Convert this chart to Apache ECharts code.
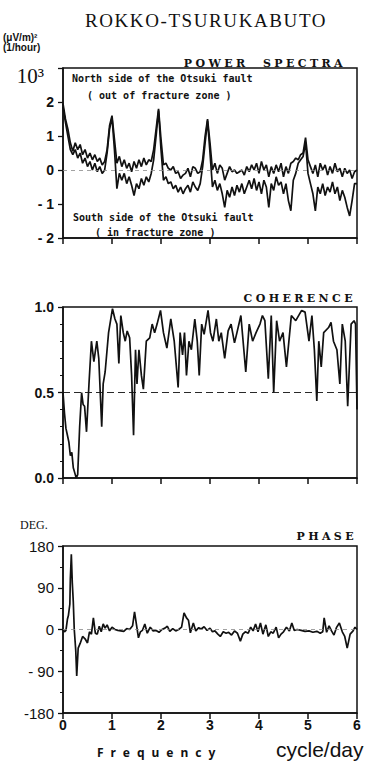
<!DOCTYPE html>
<html><head><meta charset="utf-8">
<style>
html,body{margin:0;padding:0;background:#fff;}
#c{width:367px;height:761px;}
#c text[style*="Liberation Serif"]{letter-spacing:1.6px;}
#c text[style*="DejaVu Serif"]{letter-spacing:3.4px;}
#c text[style*="Noto Sans"]{letter-spacing:7px;}
</style>
<script src="https://cdn.jsdelivr.net/npm/echarts@6/dist/echarts.min.js"></script>
</head><body><div id="c"></div>
<script>
// ---- data ----
const freqStart = 0, freqStep = 0.05; // power spectra sampled every 0.05 cycle/day from 0 to 6
const northSide = [
 1.95,1.5,1.2,0.8,0.55,0.8,0.6,0.75,0.45,0.6,
 0.35,0.5,0.3,0.45,0.25,0.35,0.15,0.25,0.6,1.3,
 1.6,0.9,0.2,0.4,0.1,0.3,0.05,0.2,-0.05,0.25,
 0.05,0.3,0.1,0.35,0.15,0.3,0.25,0.6,1.2,1.8,
 0.9,0.15,0.2,0.05,0.0,0.1,-0.1,-0.05,-0.25,-0.15,
 -0.1,0.05,-0.2,0.1,0.05,-0.1,-0.05,0.3,1.0,1.5,
 0.8,0.0,0.2,-0.1,0.15,0.05,-0.3,-0.1,0.1,-0.05,
 0.0,-0.1,-0.05,0.0,-0.15,0.1,-0.05,0.15,0.0,0.2,
 -0.1,0.25,0.0,0.15,-0.2,0.1,-0.1,0.15,-0.05,0.2,
 -0.2,0.1,-0.1,0.2,0.25,0.35,0.3,0.45,0.5,0.95,
 0.3,0.1,-0.1,0.15,-0.2,0.2,0.0,0.15,-0.15,0.1,
 -0.1,0.2,-0.05,0.05,-0.2,0.05,-0.1,0.0,-0.25,-0.05,
 0.0];
const southSide = [
 1.85,1.4,1.0,0.6,0.45,0.6,0.35,0.5,0.2,0.35,
 0.1,0.25,0.0,0.2,-0.05,0.1,-0.1,0.0,0.5,1.2,
 1.55,0.6,-0.55,-0.1,-0.3,-0.1,-0.4,-0.2,-0.45,-0.75,
 -0.4,-0.55,-0.25,-0.45,-0.2,-0.35,-0.1,0.3,1.0,1.75,
 0.6,-0.3,-0.2,-0.4,-0.35,-0.55,-0.45,-0.65,-0.5,-0.7,
 -0.55,-0.45,-0.65,-0.35,-0.5,-0.6,-0.4,0.1,0.8,1.45,
 0.5,-0.5,-0.3,-0.6,-0.4,-0.7,-1.1,-0.6,-0.8,-0.5,
 -0.75,-0.45,-0.65,-0.4,-0.7,-0.5,-0.3,-0.55,-0.25,-0.6,
 -0.35,-0.7,-0.3,-0.5,-1.1,-0.4,-0.6,-0.2,-0.45,-0.35,
 -0.7,-0.4,-0.9,-1.2,-0.3,-0.1,0.2,0.3,0.4,0.8,
 -0.1,-0.4,-0.7,-1.2,-0.5,-0.7,-0.4,-0.75,-0.5,-0.65,
 -0.35,-0.7,-0.5,-0.9,-0.6,-0.8,-1.1,-1.35,-0.9,-0.4,
 -0.4];
const powerTicks = [-2,-1,0,1,2,3];
const powerTickLabels = ['- 2','- 1','0','1','2','10³'];

const cohFreq = [0.00,0.03,0.06,0.09,0.12,0.15,0.18,0.21,0.24,0.27,0.30,0.34,0.38,0.41,0.44,0.48,0.53,0.58,0.63,0.69,0.73,0.79,0.82,0.86,0.93,1.01,1.06,1.10,1.14,1.18,1.23,1.27,1.31,1.36,1.40,1.44,1.48,1.51,1.55,1.60,1.64,1.70,1.77,1.82,1.87,1.92,1.99,2.05,2.12,2.20,2.27,2.35,2.39,2.44,2.48,2.52,2.57,2.62,2.69,2.74,2.78,2.83,2.88,2.96,3.01,3.06,3.13,3.18,3.23,3.30,3.37,3.43,3.50,3.55,3.63,3.73,3.80,3.87,3.94,4.02,4.07,4.12,4.19,4.25,4.30,4.36,4.42,4.49,4.56,4.66,4.75,4.87,4.94,5.02,5.08,5.13,5.18,5.22,5.27,5.32,5.42,5.47,5.52,5.59,5.65,5.70,5.76,5.81,5.88,5.94,5.97,6.00];
const cohVal = [0.50,0.38,0.29,0.25,0.21,0.13,0.15,0.06,0.03,0.00,0.02,0.30,0.50,0.43,0.42,0.27,0.55,0.80,0.68,0.80,0.70,0.30,0.55,0.62,0.85,0.99,0.93,0.90,0.67,0.95,0.85,0.80,0.86,0.82,0.60,0.25,0.75,0.55,0.75,0.60,0.52,0.80,0.82,0.90,0.85,0.90,0.98,0.85,0.76,0.93,0.80,0.53,0.85,0.72,0.85,0.60,0.80,0.75,0.93,0.80,0.60,0.90,0.84,0.98,0.85,0.80,0.93,0.80,0.85,0.70,0.86,0.90,0.79,0.85,0.95,0.62,0.90,0.80,0.85,0.90,0.95,0.92,0.58,0.95,0.50,0.92,0.80,0.85,0.65,0.95,0.92,0.98,0.97,0.80,0.95,0.75,0.45,0.80,0.65,0.85,0.88,0.91,0.80,0.75,0.55,0.90,0.80,0.42,0.90,0.92,0.90,0.40];
const cohTicks = [0, 0.5, 1.0];

const phaseFreq = [0.00,0.03,0.06,0.09,0.11,0.14,0.15,0.17,0.19,0.21,0.23,0.26,0.28,0.31,0.35,0.40,0.45,0.50,0.54,0.58,0.62,0.66,0.70,0.74,0.78,0.82,0.86,0.90,0.95,1.00,1.06,1.12,1.18,1.24,1.30,1.36,1.42,1.46,1.50,1.54,1.58,1.62,1.67,1.72,1.78,1.84,1.90,1.96,2.02,2.08,2.13,2.18,2.24,2.30,2.36,2.42,2.47,2.52,2.56,2.60,2.66,2.71,2.77,2.82,2.88,2.94,3.00,3.05,3.10,3.16,3.21,3.27,3.33,3.38,3.44,3.50,3.56,3.62,3.67,3.72,3.78,3.83,3.88,3.93,3.98,4.03,4.08,4.14,4.19,4.24,4.29,4.35,4.40,4.45,4.50,4.56,4.62,4.67,4.72,4.78,4.86,4.94,5.02,5.10,5.18,5.25,5.30,5.33,5.38,5.43,5.48,5.53,5.58,5.64,5.70,5.75,5.80,5.86,5.92,5.96,6.00];
const phaseVal = [0,-5,-2,22,30,55,110,162,100,60,0,-45,-100,-40,-30,-15,-20,-29,-5,-10,25,-8,-10,7,-5,12,3,10,-3,5,0,-2,-3,-4,2,0,8,38,10,-18,-5,-2,12,-8,5,-3,-2,-6,0,3,7,-4,2,-3,0,5,36,25,20,-7,14,-3,4,1,6,-2,3,-5,-3,-10,-15,-5,-8,-6,-12,-3,-8,-25,-10,-5,-8,5,-3,12,-5,14,-10,10,-15,-5,-8,5,-18,-10,-5,5,-3,14,-2,0,-2,-4,-3,-6,-4,-8,-5,25,-6,8,-3,-12,4,14,-5,-15,-40,-10,-3,5,0];
const phaseTicks = [-180,-90,0,90,180];
const phaseTickLabels = ['-180','- 90','0','90','180'];
const freqTicks = [0,1,2,3,4,5,6];

// ---- build ----
const zip = (xs, ys) => ys.map((v, i) => [xs[i], v]);
const powerFreq = northSide.map((_, i) => +(freqStart + i * freqStep).toFixed(2));

const chart = echarts.init(document.getElementById('c'), null, {renderer: 'svg'});
const black = '#111';
const axLine = {show: true, onZero: false, lineStyle: {color: black, width: 1.5}};
const gridBase = {left: 63, width: 294, show: true, borderColor: black, borderWidth: 1.5, containLabel: false};

function xAx(i, showLabel) {
  return {
    type: 'value', gridIndex: i, min: 0, max: 6, interval: 1,
    axisLine: axLine,
    axisTick: {show: true, length: 6, inside: false, lineStyle: {color: black, width: 1.5}},
    axisLabel: {show: showLabel, margin: 5, color: black,
      fontFamily: 'Liberation Sans', fontWeight: 'bold', fontSize: 14,
      formatter: v => freqTicks.includes(v) ? String(v) : ''},
    splitLine: {show: false}
  };
}
const yTick = {show: true, length: 5, lineStyle: {color: black, width: 1.3}};
const labelFont = {color: black, fontFamily: 'Liberation Sans', fontWeight: 'bold', fontSize: 14};
const curve = {color: black, width: 1.7};
const zeroLine = {silent: true, symbol: 'none', label: {show: false},
  lineStyle: {color: '#8a8a8a', width: 0.8, type: [4, 4]}, data: [{yAxis: 0}]};

const option = {
  animation: false,
  backgroundColor: '#fff',
  grid: [
    Object.assign({}, gridBase, {top: 68, height: 170}),
    Object.assign({}, gridBase, {top: 307, height: 171}),
    Object.assign({}, gridBase, {top: 546, height: 167})
  ],
  xAxis: [xAx(0, false), xAx(1, false), xAx(2, true)],
  yAxis: [
    {type: 'value', gridIndex: 0, min: -2, max: 3, interval: 1,
     axisLine: axLine, axisTick: yTick, splitLine: {show: false},
     axisLabel: Object.assign({}, labelFont, {margin: 9,
       formatter: v => { const k = powerTicks.indexOf(v); if (k < 0) return '';
         return v === 3 ? '{e|' + powerTickLabels[k] + '}' : powerTickLabels[k]; },
       rich: {e: {fontFamily: 'Times New Roman', fontSize: 21, fontWeight: 'normal', color: black, padding: [15, 10, 0, 0]}}})},
    {type: 'value', gridIndex: 1, min: 0, max: 1, interval: 0.5,
     axisLine: axLine, axisTick: yTick, splitLine: {show: false},
     minorTick: {show: true, splitNumber: 5, length: 3, lineStyle: {color: black, width: 1}},
     axisLabel: Object.assign({}, labelFont, {margin: 9,
       formatter: v => cohTicks.some(t => Math.abs(t - v) < 1e-9) ? v.toFixed(1) : ''})},
    {type: 'value', gridIndex: 2, min: -180, max: 180, interval: 90,
     axisLine: axLine, axisTick: yTick, splitLine: {show: false},
     minorTick: {show: true, splitNumber: 2, length: 3, lineStyle: {color: black, width: 1}},
     axisLabel: Object.assign({}, labelFont, {margin: 9, fontWeight: 'normal', fontSize: 15,
       formatter: v => { const k = phaseTicks.indexOf(v); return k < 0 ? '' : phaseTickLabels[k]; }})}
  ],
  series: [
    {type: 'line', name: 'North side', xAxisIndex: 0, yAxisIndex: 0, data: zip(powerFreq, northSide),
     showSymbol: false, lineStyle: curve, markLine: zeroLine},
    {type: 'line', name: 'South side', xAxisIndex: 0, yAxisIndex: 0, data: zip(powerFreq, southSide),
     showSymbol: false, lineStyle: curve},
    {type: 'line', name: 'Coherence', xAxisIndex: 1, yAxisIndex: 1, data: zip(cohFreq, cohVal),
     showSymbol: false, lineStyle: curve,
     markLine: {silent: true, symbol: 'none', label: {show: false},
       lineStyle: {color: black, width: 0.9, type: [7, 4]}, data: [{yAxis: 0.5}]}},
    {type: 'line', name: 'Phase', xAxisIndex: 2, yAxisIndex: 2, data: zip(phaseFreq, phaseVal),
     showSymbol: false, lineStyle: curve, markLine: zeroLine}
  ],
  graphic: [
    {type: 'text', x: 206, y: 20, style: {text: 'ROKKO-TSURUKABUTO', fill: black, font: '19px "Liberation Serif"', textAlign: 'center', textVerticalAlign: 'middle'}},
    {type: 'text', x: 3, y: 37, style: {text: '(μV/m)²', fill: black, font: 'bold 10px "Liberation Sans"', textAlign: 'left', textVerticalAlign: 'middle'}},
    {type: 'text', x: 3, y: 47, style: {text: '(1/hour)', fill: black, font: 'bold 10px "Liberation Sans"', textAlign: 'left', textVerticalAlign: 'middle'}},
    {type: 'text', x: 346, y: 63, style: {text: 'POWER  SPECTRA', fill: black, font: 'bold 11px "DejaVu Serif"', textAlign: 'right', textVerticalAlign: 'middle'}},
    {type: 'text', x: 72, y: 78, style: {text: 'North side of the Otsuki fault', fill: black, font: 'bold 10px "DejaVu Sans Mono"', textAlign: 'left', textVerticalAlign: 'middle'}},
    {type: 'text', x: 87, y: 95, style: {text: '( out of fracture zone )', fill: black, font: 'bold 10px "DejaVu Sans Mono"', textAlign: 'left', textVerticalAlign: 'middle'}},
    {type: 'text', x: 73, y: 217, style: {text: 'South side of the Otsuki fault', fill: black, font: 'bold 10px "DejaVu Sans Mono"', textAlign: 'left', textVerticalAlign: 'middle'}},
    {type: 'text', x: 95, y: 232, style: {text: '( in fracture zone )', fill: black, font: 'bold 10px "DejaVu Sans Mono"', textAlign: 'left', textVerticalAlign: 'middle'}},
    {type: 'text', x: 356, y: 298, style: {text: 'COHERENCE', fill: black, font: 'bold 11px "DejaVu Serif"', textAlign: 'right', textVerticalAlign: 'middle'}},
    {type: 'text', x: 20, y: 525, style: {text: 'DEG.', fill: black, font: '12px "Times New Roman"', textAlign: 'left', textVerticalAlign: 'middle'}},
    {type: 'text', x: 357, y: 536, style: {text: 'PHASE', fill: black, font: 'bold 11px "DejaVu Serif"', textAlign: 'right', textVerticalAlign: 'middle'}},
    {type: 'text', x: 97, y: 752, style: {text: 'Frequency', fill: black, font: 'bold 12px "Noto Sans"', textAlign: 'left', textVerticalAlign: 'middle'}},
    {type: 'text', x: 276, y: 749, style: {text: 'cycle/day', fill: black, font: '21px "Liberation Sans"', textAlign: 'left', textVerticalAlign: 'middle'}}
  ]
};
chart.setOption(option);
</script>
</body></html>
